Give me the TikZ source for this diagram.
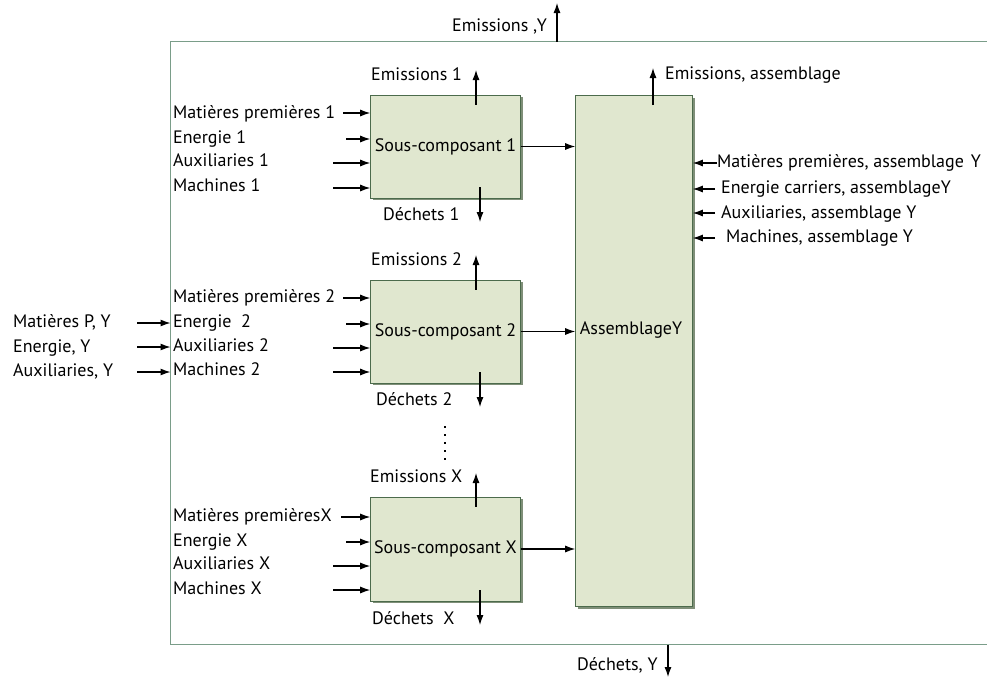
\documentclass[tikz,border=0pt]{standalone}
\usepackage{fontspec}
\setmainfont{PT Sans}
\usetikzlibrary{arrows.meta,shadows}
\definecolor{framegreen}{HTML}{7A9D89}
\definecolor{boxfill}{HTML}{E0E7CF}
\definecolor{boxline}{HTML}{4C6B4C}
\definecolor{boxshade}{HTML}{7F8F78}
\begin{document}
\begin{tikzpicture}[x=1pt,y=-1pt,
  font=\fontsize{18}{22}\selectfont,
  flow/.style={-{Latex[length=10pt,width=7pt]},line width=1.1pt},
  lbl/.style={anchor=west,inner sep=0pt,text height=13pt,text depth=4pt},
  box/.style={draw=boxline,line width=0.6pt,fill=boxfill,inner sep=1pt,
    drop shadow={shadow xshift=2.2pt,shadow yshift=-2.2pt,fill=boxshade,opacity=1}},
  sub/.style={box,minimum width=150pt,minimum height=103pt}]
\useasboundingbox (0,0) rectangle (987,678);

% outer system boundary (open on the right)
\coordinate (ftr) at (995,41.5);
\coordinate (fbr) at (995,644.5);
\draw[framegreen,line width=1.8pt] (ftr) -- (170.5,41.5) coordinate (ftl)
  -- (170.5,644.5) coordinate (fbl) -- (fbr);

% sub-component boxes and assembly
\node[sub] (b1) at (445.5,146.5) {Sous-composant 1};
\node[sub] (b2) at (445.5,331.5) {Sous-composant 2};
\node[sub,minimum height=104pt] (bx) at (445.5,549) {Sous-composant X};
\node[box,minimum width=117pt,minimum height=511pt] (asm) at (634,351) {};
\node[inner sep=0pt] (asmlbl) at (631,330) {AssemblageY};

% sub-component outputs into the assembly
\draw[flow] (b1.east) -- (b1.east -| asm.west);
\draw[flow] (b2.east) -- (b2.east -| asm.west);
\draw[flow] (bx.east) -- (bx.east -| asm.west);

% continuation dots
\coordinate (dtop) at (445,426);
\coordinate (dbot) at (445,462);
\draw[line width=1.8pt,dash pattern=on 1.8pt off 6.2pt,line cap=butt] (dtop) -- (dbot);

% ---------- sub-component 1 ----------
\node[lbl] (e1) at (371,76) {Emissions 1};
\coordinate (e1t) at (476,70);
\draw[flow] ([yshift=-10pt]e1t |- b1.north) -- (e1t);
\node[lbl] (d1) at (383,216) {Déchets 1};
\coordinate (d1t) at (480,222);
\draw[flow] ([yshift=11pt]d1t |- b1.south) -- (d1t);
\node[lbl] (m1) at (173,114) {Matières premières 1};
\node[lbl] (n1) at (173,139) {Energie 1};
\node[lbl] (a1) at (173,162) {Auxiliaries 1};
\node[lbl] (c1) at (173,187) {Machines 1};
\coordinate (m1s) at (343,113);
\coordinate (n1s) at (346,139);
\coordinate (a1s) at (333,163);
\coordinate (c1s) at (333,188);
\foreach \s in {m1s,n1s,a1s,c1s} \draw[flow] (\s) -- (\s -| b1.west);

% ---------- sub-component 2 ----------
\node[lbl] (e2) at (371,261) {Emissions 2};
\coordinate (e2t) at (476,255);
\draw[flow] ([yshift=-10pt]e2t |- b2.north) -- (e2t);
\node[lbl] (d2) at (376,401) {Déchets 2};
\coordinate (d2t) at (480,407);
\draw[flow] ([yshift=11pt]d2t |- b2.south) -- (d2t);
\node[lbl] (m2) at (173,298) {Matières premières 2};
\node[lbl] (n2) at (173,323) {Energie\ \ 2};
\node[lbl] (a2) at (173,347) {Auxiliaries 2};
\node[lbl] (c2) at (173,371) {Machines 2};
\coordinate (m2s) at (343,298);
\coordinate (n2s) at (346,324);
\coordinate (a2s) at (333,348);
\coordinate (c2s) at (333,372);
\foreach \s in {m2s,n2s,a2s,c2s} \draw[flow] (\s) -- (\s -| b2.west);

% ---------- sub-component X ----------
\node[lbl] (ex) at (370,478) {Emissions X};
\coordinate (ext) at (476,473);
\draw[flow] ([yshift=-10pt]ext |- bx.north) -- (ext);
\node[lbl] (dx) at (372,620) {Déchets\ \ X};
\coordinate (dxt) at (480,625);
\draw[flow] ([yshift=11pt]dxt |- bx.south) -- (dxt);
\node[lbl] (mx) at (173,517) {Matières premièresX};
\node[lbl] (nx) at (173,542) {Energie X};
\node[lbl] (ax) at (173,565) {Auxiliaries X};
\node[lbl] (cx) at (173,590) {Machines X};
\coordinate (mxs) at (341,517);
\coordinate (nxs) at (346,542);
\coordinate (axs) at (333,566);
\coordinate (cxs) at (333,590);
\foreach \s in {mxs,nxs,axs,cxs} \draw[flow] (\s) -- (\s -| bx.west);

% ---------- assembly flows ----------
\node[lbl] (ea) at (665,75) {Emissions, assemblage};
\coordinate (eat) at (653,68);
\draw[flow] ([yshift=-10pt]eat |- asm.north) -- (eat);
\node[lbl] (ma) at (717,163) {Matières premières, assemblage\hspace{7pt}Y};
\node[lbl] (na) at (721,189) {Energie carriers, assemblageY};
\node[lbl] (aa) at (721,214) {Auxiliaries, assemblage Y};
\node[lbl] (ca) at (726,238) {Machines, assemblage Y};
\coordinate (mas) at (717,163);
\coordinate (nas) at (715,189);
\coordinate (aas) at (715,213);
\coordinate (cas) at (715,238);
\foreach \s in {mas,nas,aas,cas} \draw[flow] (\s) -- (\s -| asm.east);

% ---------- system inputs and outputs ----------
\node[lbl] (mp) at (13,323) {Matières P, Y};
\node[lbl] (ey) at (13,348) {Energie, Y};
\node[lbl] (ay) at (13,372) {Auxiliaries, Y};
\coordinate (mps) at (137,323);
\coordinate (eys) at (137,347);
\coordinate (ays) at (137,372);
\foreach \s in {mps,eys,ays} \draw[flow] (\s) -- (\s -| ftl);

\node[lbl] (ey2) at (452,27) {Emissions ,Y};
\coordinate (eyt) at (557,3);
\draw[flow] (eyt |- ftl) -- (eyt);
\node[lbl] (dy) at (577,666) {Déchets, Y};
\coordinate (dyt) at (668,677);
\draw[flow] (dyt |- fbl) -- (dyt);
\end{tikzpicture}
\end{document}
